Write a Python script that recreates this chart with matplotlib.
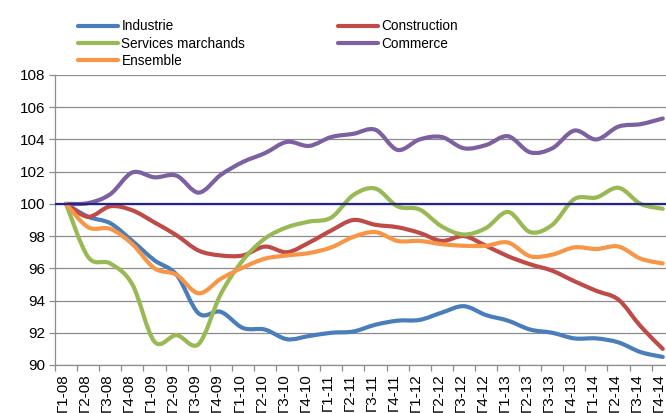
import matplotlib
matplotlib.use("Agg")
import matplotlib.pyplot as plt
import matplotlib.transforms as mtransforms
import numpy as np
from matplotlib.path import Path
from matplotlib.patches import PathPatch
from matplotlib.lines import Line2D

plt.rcParams['font.family'] = ['Liberation Sans', 'DejaVu Sans']

quarters = ["Г1-08", "Г2-08", "Г3-08", "Г4-08", "Г1-09", "Г2-09", "Г3-09", "Г4-09",
            "Г1-10", "Г2-10", "Г3-10", "Г4-10", "Г1-11", "Г2-11", "Г3-11", "Г4-11",
            "Г1-12", "Г2-12", "Г3-12", "Г4-12", "Г1-13", "Г2-13", "Г3-13", "Г4-13",
            "Г1-14", "Г2-14", "Г3-14", "Г4-14"]

industrie = [100, 99.2, 98.8, 97.7, 96.5, 95.6, 93.2, 93.3, 92.3, 92.2, 91.6, 91.8, 92.0, 92.08,
             92.5, 92.75, 92.8, 93.25, 93.65, 93.1, 92.75, 92.2, 92.0, 91.65, 91.65, 91.4, 90.8, 90.5]
construction = [100, 99.2, 99.85, 99.6, 98.85, 98.05, 97.1, 96.8, 96.8, 97.35, 97.0, 97.6, 98.35, 99.0,
                98.7, 98.55, 98.2, 97.7, 98.0, 97.4, 96.75, 96.25, 95.85, 95.2, 94.6, 94.05, 92.4, 91.0]
services = [100, 96.7, 96.3, 95.0, 91.45, 91.85, 91.3, 94.4, 96.5, 97.85, 98.55, 98.9, 99.15, 100.55,
            100.95, 99.85, 99.65, 98.6, 98.1, 98.5, 99.5, 98.25, 98.7, 100.3, 100.4, 101.0, 100.0, 99.7]
commerce = [100, 100.05, 100.6, 101.95, 101.65, 101.75, 100.7, 101.8, 102.6, 103.15, 103.85, 103.6, 104.15, 104.35,
            104.6, 103.35, 104.0, 104.15, 103.45, 103.65, 104.2, 103.2, 103.45, 104.55, 104.0, 104.8, 104.95, 105.3]
ensemble = [100, 98.55, 98.45, 97.5, 96.0, 95.6, 94.45, 95.35, 96.05, 96.6, 96.8, 96.95, 97.3, 97.95,
            98.25, 97.7, 97.7, 97.5, 97.4, 97.4, 97.6, 96.75, 96.85, 97.3, 97.2, 97.35, 96.6, 96.3]
reference_level = 100

series = [
    ("Industrie", industrie, "#4A7EBB"),
    ("Construction", construction, "#BE4B48"),
    ("Services marchands", services, "#98B954"),
    ("Commerce", commerce, "#7D60A0"),
    ("Ensemble", ensemble, "#F79646"),
]


def smooth_path(xs, ys):
    pts = np.column_stack([xs, ys]).astype(float)
    n = len(pts)
    verts = [pts[0]]
    codes = [Path.MOVETO]
    for i in range(n - 1):
        p0 = pts[i - 1] if i > 0 else pts[i]
        p1 = pts[i]
        p2 = pts[i + 1]
        p3 = pts[i + 2] if i + 2 < n else pts[i + 1]
        c1 = p1 + (p2 - p0) / 6.0
        c2 = p2 - (p3 - p1) / 6.0
        verts += [c1, c2, p2]
        codes += [Path.CURVE4] * 3
    return Path(verts, codes)


W, H = 666, 413
fig = plt.figure(figsize=(W / 100, H / 100), dpi=100)
left, right, top, bottom = 55, 673.8, 75, 365
ax = fig.add_axes([left / W, 1 - bottom / H, (right - left) / W, (bottom - top) / H])

x = np.arange(len(quarters))
ax.set_xlim(-0.5, len(quarters) - 0.5)
ax.set_ylim(90, 108)
ax.set_yticks(np.arange(90, 109, 2))
ax.yaxis.grid(True, color="#8C8C8C", linewidth=0.9)
ax.set_axisbelow(True)

for name, vals, col in series:
    patch = PathPatch(smooth_path(x, vals), facecolor="none", edgecolor=col,
                      linewidth=3.0, capstyle="round", joinstyle="round", zorder=3)
    ax.add_patch(patch)

ax.axhline(reference_level, color="#23238C", linewidth=1.6, zorder=4)

for s in ["top", "right"]:
    ax.spines[s].set_visible(False)
for s in ["left", "bottom"]:
    ax.spines[s].set_color("#8C8C8C")
    ax.spines[s].set_linewidth(0.9)

ax.set_xticks(x)
ax.set_xticklabels(quarters, rotation=90, fontsize=11, va="top")
ax.tick_params(axis="x", which="major", length=0, pad=6.3)
shift = mtransforms.ScaledTranslation(-3.5 / 100, 0, fig.dpi_scale_trans)
for lbl in ax.get_xticklabels():
    lbl.set_transform(lbl.get_transform() + shift)
ax.set_xticks(np.arange(-0.5, len(quarters), 1), minor=True)
ax.tick_params(axis="x", which="minor", length=4, color="#8C8C8C", width=0.9, direction="out")
ax.tick_params(axis="y", length=4, color="#8C8C8C", width=0.9, labelsize=11, pad=3)

order = [0, 2, 4, 1, 3]
handles = [Line2D([], [], color=series[i][2], linewidth=3.0, solid_capstyle="round") for i in order]
labels = [series[i][0] for i in order]
fig.legend(handles, labels, ncol=2, loc="upper left", bbox_to_anchor=(78 / W, 1 - 19.5 / H),
           frameon=False, fontsize=9.8, handlelength=2.94, handletextpad=0.25,
           columnspacing=6.8, labelspacing=0.235, borderpad=0, borderaxespad=0)

fig.savefig("out.png", dpi=100)
